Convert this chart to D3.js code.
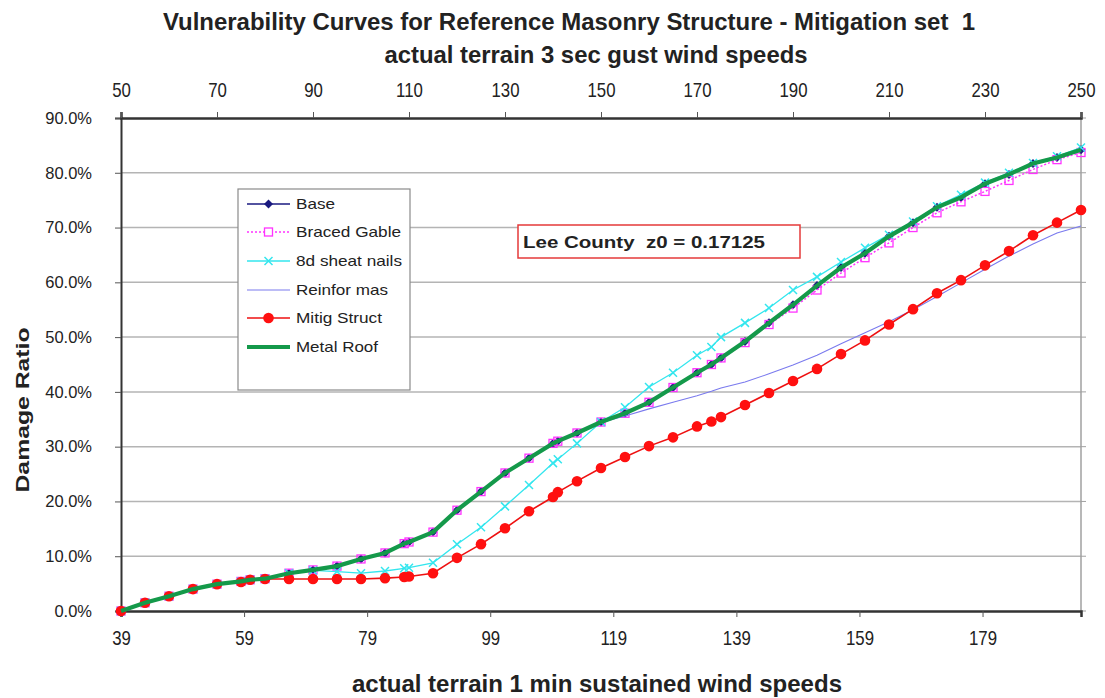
<!DOCTYPE html>
<html><head><meta charset="utf-8">
<script src="https://cdn.jsdelivr.net/npm/d3@7"></script>
<style>
html,body{margin:0;padding:0;background:#fff;}
svg{display:block;}
text{white-space:pre;}
</style></head>
<body>
<svg id="chart" width="1105" height="698"></svg>
<script>
// gust wind speeds (top axis units) at which values are given
const gust = [50,55,60,65,70,75,76.9,80,85,90,95,100,105,109,110,115,120,125,130,135,140,141,145,150,155,160,165,170,173,175,180,185,190,195,200,205,210,215,220,225,230,235,240,245,250];
const base = [0,1.5,2.7,4.0,4.9,5.4,5.7,5.9,6.9,7.5,8.2,9.5,10.6,12.3,12.6,14.4,18.4,21.8,25.2,27.9,30.6,31.0,32.5,34.5,36.1,38.1,40.8,43.5,45.0,46.2,49.2,52.6,55.9,59.4,62.7,65.3,68.4,70.9,73.7,75.5,78.0,79.7,81.7,82.8,84.2];
const bracedGable = [0,1.5,2.7,4.0,4.9,5.4,5.7,5.9,6.9,7.5,8.2,9.5,10.6,12.3,12.6,14.4,18.4,21.8,25.2,27.9,30.6,31.0,32.5,34.5,36.1,38.1,40.8,43.5,45.0,46.2,49.0,52.3,55.3,58.6,61.7,64.5,67.2,70.0,72.7,74.7,76.6,78.6,80.6,82.4,83.7];
const sheatNails8d = [0,1.5,2.7,4.0,4.9,5.4,5.7,5.9,6.9,7.4,7.2,6.9,7.3,7.8,7.9,8.8,12.2,15.3,19.1,23.0,27.0,27.7,30.6,34.5,37.2,40.9,43.5,46.7,48.2,50.0,52.6,55.3,58.6,61.0,63.7,66.3,68.7,71.1,73.9,76.0,78.2,80.0,81.8,83.0,84.6];
const reinforMas = [0,1.5,2.7,4.0,4.9,5.4,5.7,5.9,6.9,7.5,8.2,9.5,10.6,12.3,12.6,14.4,18.4,21.8,25.2,27.9,30.6,31.0,32.5,34.4,35.6,36.9,38.1,39.3,40.1,40.7,41.8,43.3,44.9,46.7,48.8,50.8,52.8,55.0,57.4,59.9,62.4,64.8,67.0,69.0,70.3];
const mitigStruct = [0,1.5,2.7,4.0,4.9,5.3,5.7,5.85,5.85,5.85,5.85,5.85,6.0,6.2,6.3,6.9,9.7,12.2,15.1,18.2,20.8,21.7,23.7,26.1,28.1,30.1,31.7,33.7,34.6,35.4,37.6,39.8,42.0,44.2,46.9,49.4,52.3,55.1,58.0,60.4,63.1,65.7,68.6,70.9,73.2];
const metalRoof = base.slice();

const topTicks = [50,70,90,110,130,150,170,190,210,230,250];
const bottomTicks = [39,59,79,99,119,139,159,179];
const yTicks = [0,10,20,30,40,50,60,70,80,90];
const seriesNames = ["Base","Braced Gable","8d sheat nails","Reinfor mas","Mitig Struct","Metal Roof"];
const titleLines = ["Vulnerability Curves for Reference Masonry Structure - Mitigation set  1","actual terrain 3 sec gust wind speeds"];
const xTitle = "actual terrain 1 min sustained wind speeds";
const yTitle = "Damage Ratio";
const note = "Lee County  z0 = 0.17125";

const svg = d3.select("#chart");
const L = 121, R = 1081, T = 118, B = 611;
const x = d3.scaleLinear().domain([50,250]).range([L,R]);
const xs = d3.scaleLinear().domain([39,195]).range([L,R]);
const y = d3.scaleLinear().domain([0,90]).range([B,T]);

function narrow(sel, f){
  sel.each(function(){ const w=this.getComputedTextLength(); d3.select(this).attr("textLength",w*f).attr("lengthAdjust","spacingAndGlyphs"); });
}

// gridlines
svg.append("g").selectAll("line").data(yTicks.filter(d=>d>0 && d<90)).join("line")
  .attr("x1",L).attr("x2",R).attr("y1",d=>y(d)).attr("y2",d=>y(d))
  .attr("stroke","#b4b4b4").attr("stroke-width",1.5);

// right border with small ticks
svg.append("line").attr("x1",R).attr("x2",R).attr("y1",T).attr("y2",B).attr("stroke","#a0a0a0").attr("stroke-width",1.5);
svg.append("g").selectAll("line").data(yTicks).join("line")
  .attr("x1",R).attr("x2",R+5).attr("y1",d=>y(d)).attr("y2",d=>y(d)).attr("stroke","#a0a0a0");

// left axis
const yAxis = d3.axisLeft(y).tickValues(yTicks).tickSize(6).tickFormat(d=>d.toFixed(1)+"%");
const gy = svg.append("g").attr("transform",`translate(${L},0)`).call(yAxis);
gy.select(".domain").attr("stroke","#333").attr("stroke-width",2);
gy.selectAll(".tick line").attr("stroke","#555");
gy.selectAll("text").attr("font-family","Liberation Sans, Arial, sans-serif").attr("font-size",16.5).attr("fill","#222").attr("x",-29);

// bottom axis (sustained)
const xb = d3.axisBottom(xs).tickValues(bottomTicks).tickSize(6).tickFormat(d3.format("d"));
const gb = svg.append("g").attr("transform",`translate(0,${B})`).call(xb);
gb.select(".domain").attr("stroke","#333").attr("stroke-width",2.5);
gb.selectAll(".tick line").attr("stroke","#555");
gb.selectAll("text").attr("font-family","Liberation Sans, Arial, sans-serif").attr("font-size",21).attr("fill","#222").attr("dy","1.2em").call(narrow,0.8);

// top axis (gust)
const xt = d3.axisTop(x).tickValues(topTicks).tickSize(6).tickFormat(d3.format("d"));
const gt = svg.append("g").attr("transform",`translate(0,${T})`).call(xt);
gt.select(".domain").attr("stroke","#333").attr("stroke-width",2.5);
gt.selectAll(".tick line").attr("stroke","#555");
gt.selectAll("text").attr("font-family","Liberation Sans, Arial, sans-serif").attr("font-size",21).attr("fill","#222").attr("dy","-0.55em").call(narrow,0.8);

// series
const pts = arr => gust.map((g,i)=>[g,arr[i]]);
const line = d3.line().x(d=>x(d[0])).y(d=>y(d[1]));

function diamond(g, data, color, s){
  g.selectAll("path.m").data(data).join("path").attr("class","m")
   .attr("d",d=>`M${x(d[0])},${y(d[1])-s}L${x(d[0])+s},${y(d[1])}L${x(d[0])},${y(d[1])+s}L${x(d[0])-s},${y(d[1])}Z`)
   .attr("fill",color);
}

// Base
const gBase = svg.append("g");
gBase.append("path").attr("d",line(pts(base))).attr("fill","none").attr("stroke","#1a1a80").attr("stroke-width",1.5);
diamond(gBase, pts(base), "#1a1a80", 4.5);

// Braced gable
const gBr = svg.append("g");
gBr.append("path").attr("d",line(pts(bracedGable))).attr("fill","none").attr("stroke","#ff33ff").attr("stroke-width",1.5).attr("stroke-dasharray","2,2");
gBr.selectAll("rect").data(pts(bracedGable)).join("rect")
  .attr("x",d=>x(d[0])-4).attr("y",d=>y(d[1])-4).attr("width",8).attr("height",8)
  .attr("fill","none").attr("stroke","#ff33ff").attr("stroke-width",1.3);

// 8d sheat nails
const gSn = svg.append("g");
gSn.append("path").attr("d",line(pts(sheatNails8d))).attr("fill","none").attr("stroke","#33e6ee").attr("stroke-width",1.3);
gSn.selectAll("path.x").data(pts(sheatNails8d)).join("path").attr("class","x")
  .attr("d",d=>{const cx=x(d[0]),cy=y(d[1]),s=4;return `M${cx-s},${cy-s}L${cx+s},${cy+s}M${cx-s},${cy+s}L${cx+s},${cy-s}`;})
  .attr("stroke","#33e6ee").attr("stroke-width",1.5);

// Reinfor mas
svg.append("path").attr("d",line(pts(reinforMas))).attr("fill","none").attr("stroke","#7a7aee").attr("stroke-width",1.1);

// Mitig struct
const gMi = svg.append("g");
gMi.append("path").attr("d",line(pts(mitigStruct))).attr("fill","none").attr("stroke","#ee1111").attr("stroke-width",1.6);
gMi.selectAll("circle").data(pts(mitigStruct)).join("circle")
  .attr("cx",d=>x(d[0])).attr("cy",d=>y(d[1])).attr("r",5.3).attr("fill","#ff1010");

// Metal roof
svg.append("path").attr("d",line(pts(metalRoof))).attr("fill","none").attr("stroke","#14994a").attr("stroke-width",4.2);

// titles
const tf = "Liberation Sans, Arial, sans-serif";
svg.append("text").attr("x",569).attr("y",30).attr("text-anchor","middle")
  .attr("font-family",tf).attr("font-weight","bold").attr("font-size",24).attr("fill","#222")
  .attr("textLength",812).attr("lengthAdjust","spacingAndGlyphs").text(titleLines[0]);
svg.append("text").attr("x",596).attr("y",63).attr("text-anchor","middle")
  .attr("font-family",tf).attr("font-weight","bold").attr("font-size",24).attr("fill","#222")
  .attr("textLength",423).attr("lengthAdjust","spacingAndGlyphs").text(titleLines[1]);
svg.append("text").attr("x",597).attr("y",692).attr("text-anchor","middle")
  .attr("font-family",tf).attr("font-weight","bold").attr("font-size",24).attr("fill","#222")
  .attr("textLength",490).attr("lengthAdjust","spacingAndGlyphs").text(xTitle);
svg.append("text").attr("transform","translate(29,410) rotate(-90)").attr("text-anchor","middle")
  .attr("font-family",tf).attr("font-weight","bold").attr("font-size",19).attr("fill","#222")
  .attr("textLength",165).attr("lengthAdjust","spacingAndGlyphs").text(yTitle);

// legend
const lg = svg.append("g");
lg.append("rect").attr("x",238).attr("y",189).attr("width",172).attr("height",201).attr("fill","#fff").attr("stroke","#8a8a8a").attr("stroke-width",1.2);
const legY = [204,232,261,290,318,347];
const legW = [39,105,106,92,86,82];
seriesNames.forEach((n,i)=>{
  const cy = legY[i], x1=247, x2=290, cx=(x1+x2)/2;
  const gi = lg.append("g");
  if(i===0){ gi.append("line").attr("x1",x1).attr("x2",x2).attr("y1",cy).attr("y2",cy).attr("stroke","#1a1a80").attr("stroke-width",1.5);
    gi.append("path").attr("d",`M${cx},${cy-4.5}L${cx+4.5},${cy}L${cx},${cy+4.5}L${cx-4.5},${cy}Z`).attr("fill","#1a1a80"); }
  if(i===1){ gi.append("line").attr("x1",x1).attr("x2",x2).attr("y1",cy).attr("y2",cy).attr("stroke","#ff33ff").attr("stroke-width",1.5).attr("stroke-dasharray","2,2");
    gi.append("rect").attr("x",cx-4).attr("y",cy-4).attr("width",8).attr("height",8).attr("fill","#fff").attr("stroke","#ff33ff").attr("stroke-width",1.3); }
  if(i===2){ gi.append("line").attr("x1",x1).attr("x2",x2).attr("y1",cy).attr("y2",cy).attr("stroke","#33e6ee").attr("stroke-width",1.3);
    gi.append("path").attr("d",`M${cx-4},${cy-4}L${cx+4},${cy+4}M${cx-4},${cy+4}L${cx+4},${cy-4}`).attr("stroke","#33e6ee").attr("stroke-width",1.5); }
  if(i===3){ gi.append("line").attr("x1",x1).attr("x2",x2).attr("y1",cy).attr("y2",cy).attr("stroke","#7a7aee").attr("stroke-width",1.1); }
  if(i===4){ gi.append("line").attr("x1",x1).attr("x2",x2).attr("y1",cy).attr("y2",cy).attr("stroke","#ee1111").attr("stroke-width",1.6);
    gi.append("circle").attr("cx",cx).attr("cy",cy).attr("r",5.3).attr("fill","#ff1010"); }
  if(i===5){ gi.append("line").attr("x1",x1).attr("x2",x2).attr("y1",cy).attr("y2",cy).attr("stroke","#14994a").attr("stroke-width",4.2); }
  gi.append("text").attr("x",296).attr("y",cy+5).attr("font-family","Liberation Sans, Arial, sans-serif").attr("font-size",14.5).attr("fill","#222")
    .attr("textLength",legW[i]).attr("lengthAdjust","spacingAndGlyphs").text(n);
});

// annotation
svg.append("rect").attr("x",518).attr("y",225).attr("width",282).attr("height",33).attr("fill","#fff").attr("stroke","#e53a3a").attr("stroke-width",1.5);
svg.append("text").attr("x",523).attr("y",248).attr("font-family","Liberation Sans, Arial, sans-serif").attr("font-weight","bold").attr("font-size",17).attr("fill","#222")
  .attr("textLength",242).attr("lengthAdjust","spacingAndGlyphs").text(note);
</script>
</body></html>
